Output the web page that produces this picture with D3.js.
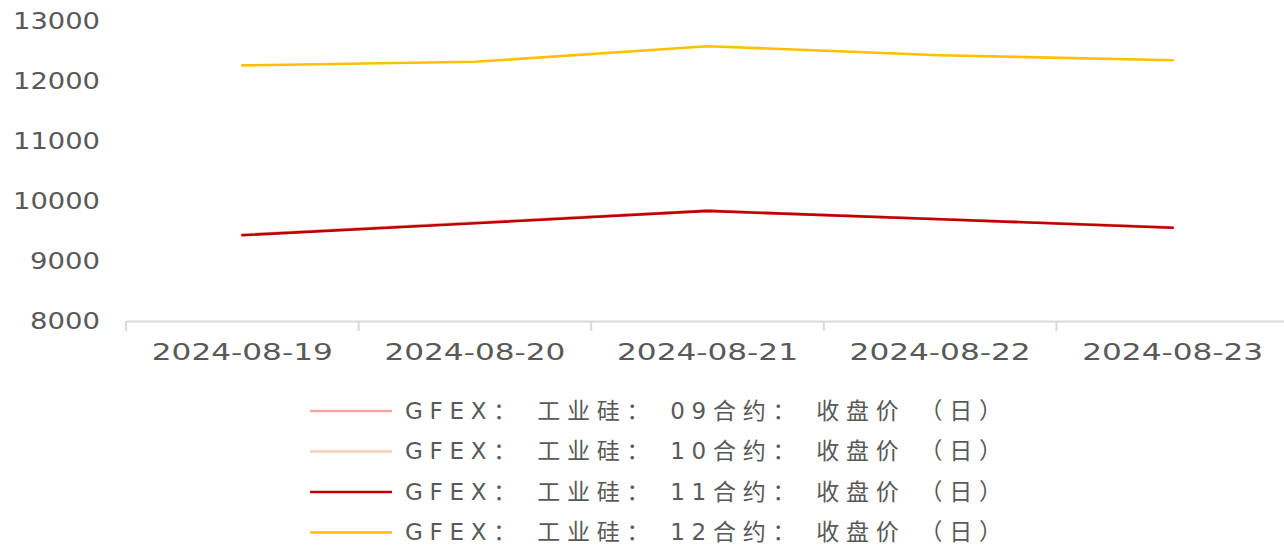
<!DOCTYPE html>
<html>
<head>
<meta charset="utf-8">
<script src="https://cdn.jsdelivr.net/npm/d3@7"></script>
<style>
  html, body { margin: 0; padding: 0; background: #fff; }
  svg text { font-family: "DejaVu Sans", "Noto Sans CJK SC", sans-serif; fill: #595959; }
</style>
</head>
<body>
<div id="chart"></div>
<script>
const dates = ['2024-08-19', '2024-08-20', '2024-08-21', '2024-08-22', '2024-08-23'];
const seriesNames = [
  'GFEX： 工业硅： 09合约： 收盘价 （日）',
  'GFEX： 工业硅： 10合约： 收盘价 （日）',
  'GFEX： 工业硅： 11合约： 收盘价 （日）',
  'GFEX： 工业硅： 12合约： 收盘价 （日）'
];
const c09 = [9440, 9640, 9840, 9700, 9560];
const c10 = [9435, 9635, 9835, 9695, 9555];
const c11 = [9430, 9630, 9835, 9695, 9555];
const c12 = [12260, 12320, 12580, 12430, 12345];
const colors = ['#f4a7a7', '#f8cdb8', '#c00000', '#ffc000'];
const yTicks = [8000, 9000, 10000, 11000, 12000, 13000];

const width = 1284;
const height = 545;
const allSeries = [c09, c10, c11, c12];

const svg = d3.select('#chart')
  .append('svg')
  .attr('width', width)
  .attr('height', height);

const x = d3.scaleBand().domain(dates).range([126, 1289]);
const y = d3.scaleLinear().domain([8000, 13000]).range([321, 21]);

// y labels (no axis line)
svg.append('g')
  .selectAll('text')
  .data(yTicks)
  .join('text')
  .attr('x', 100)
  .attr('y', d => y(d))
  .attr('dy', '0.36em')
  .attr('text-anchor', 'end')
  .attr('font-size', 23)
  .attr('textLength', d => String(d).length === 5 ? 87 : 70)
  .attr('lengthAdjust', 'spacingAndGlyphs')
  .text(d => d);

// x axis
const xAxis = svg.append('g')
  .attr('transform', `translate(0, ${y(8000)})`)
  .call(d3.axisBottom(x).tickSize(0).tickSizeOuter(0).tickPadding(0));
xAxis.select('.domain').attr('stroke', '#d9d9d9').attr('stroke-width', 2);
xAxis.selectAll('.tick text').remove();

// tick marks at band boundaries
const bounds = dates.map(d => x(d)).concat([x.range()[1]]);
svg.append('g')
  .selectAll('line')
  .data(bounds)
  .join('line')
  .attr('x1', d => d)
  .attr('x2', d => d)
  .attr('y1', y(8000))
  .attr('y2', y(8000) + 10)
  .attr('stroke', '#d9d9d9')
  .attr('stroke-width', 2);

svg.append('g')
  .selectAll('text')
  .data(dates)
  .join('text')
  .attr('x', d => x(d) + x.bandwidth() / 2)
  .attr('y', 360)
  .attr('text-anchor', 'middle')
  .attr('font-size', 23)
  .attr('textLength', 181)
  .attr('lengthAdjust', 'spacingAndGlyphs')
  .text(d => d);

// lines
const line = d3.line()
  .x((d, i) => x(dates[i]) + x.bandwidth() / 2)
  .y(d => y(d));

svg.append('g')
  .selectAll('path')
  .data(allSeries)
  .join('path')
  .attr('d', d => line(d))
  .attr('fill', 'none')
  .attr('stroke', (d, i) => colors[i])
  .attr('stroke-width', 2.6)
  .attr('stroke-linejoin', 'round')
  .attr('stroke-linecap', 'round');

// legend
const legend = svg.append('g')
  .selectAll('g')
  .data(seriesNames)
  .join('g')
  .attr('transform', (d, i) => `translate(0, ${411 + i * 40.5})`);

legend.append('line')
  .attr('x1', 310)
  .attr('x2', 392)
  .attr('stroke', (d, i) => colors[i])
  .attr('stroke-width', 2.6);

legend.append('text')
  .attr('x', 405)
  .attr('dy', '0.33em')
  .attr('font-size', 23)
  .attr('textLength', 597)
  .attr('lengthAdjust', 'spacing')
  .text(d => d);
</script>
</body>
</html>
